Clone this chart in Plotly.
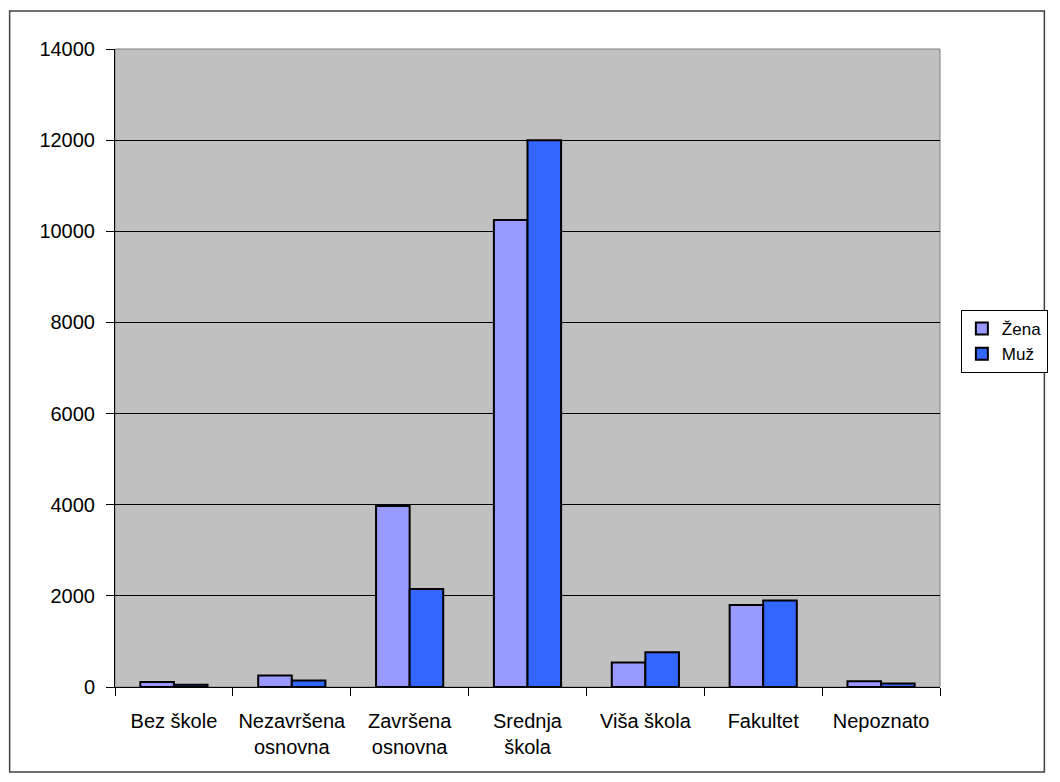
import plotly.graph_objects as go

categories = ["Bez škole", "Nezavršena<br>osnovna", "Završena<br>osnovna", "Srednja<br>škola",
              "Viša škola", "Fakultet", "Nepoznato"]
zena = [110, 250, 3970, 10250, 540, 1800, 125]
muz = [50, 140, 2150, 12000, 760, 1900, 75]
y_ticks = [0, 2000, 4000, 6000, 8000, 10000, 12000, 14000]

W, H = 1060, 782
L, T = 115, 49
R = W - 945
B = H - 687
pw, ph = W - L - R, H - T - B

fig = go.Figure()
fig.add_trace(go.Bar(name="Žena", x=categories, y=zena,
                     marker=dict(color="#9999FF", line=dict(color="black", width=2))))
fig.add_trace(go.Bar(name="Muž", x=categories, y=muz,
                     marker=dict(color="#3366FF", line=dict(color="black", width=2))))

fig.update_layout(
    width=W, height=H,
    margin=dict(l=L, r=R, t=T, b=B),
    paper_bgcolor="white", plot_bgcolor="#C0C0C0",
    barmode="group", bargap=0.43, bargroupgap=0,
    font=dict(family="Liberation Sans, Arial, sans-serif", size=20, color="black"),
    legend=dict(x=(966 - L) / pw, y=(H - B - 310) / ph,
                xanchor="left", yanchor="top",
                bordercolor="black", borderwidth=1, bgcolor="white",
                font=dict(size=17), itemwidth=30, tracegroupgap=0),
    showlegend=True,
)
fig.update_xaxes(type="category", tickson="boundaries", ticks="outside", ticklen=8,
                 tickcolor="black", showline=True, linecolor="black", linewidth=1,
                 showgrid=False, tickfont=dict(size=20), ticklabelstandoff=16)
fig.update_yaxes(range=[0, 14000], tickvals=y_ticks, tickformat="d", ticks="outside", ticklen=8,
                 tickcolor="black", showline=True, linecolor="black", linewidth=1,
                 showgrid=True, gridcolor="black", gridwidth=1, zeroline=False,
                 tickfont=dict(size=20), ticklabelstandoff=7)

# plot area gray border (top/right)
fig.add_shape(type="rect", xref="paper", yref="paper", x0=0, x1=1, y0=0, y1=1,
              line=dict(color="#808080", width=1), layer="below")
# outer chart border
fig.add_shape(type="rect", xref="paper", yref="paper",
              x0=(9 - L) / pw, x1=(1050 - L) / pw,
              y0=(H - B - 772) / ph, y1=(H - B - 11) / ph,
              line=dict(color="#404040", width=1.5))

fig.write_html("out.html", config={"displayModeBar": False},
               post_script="document.body.style.margin='0';")
